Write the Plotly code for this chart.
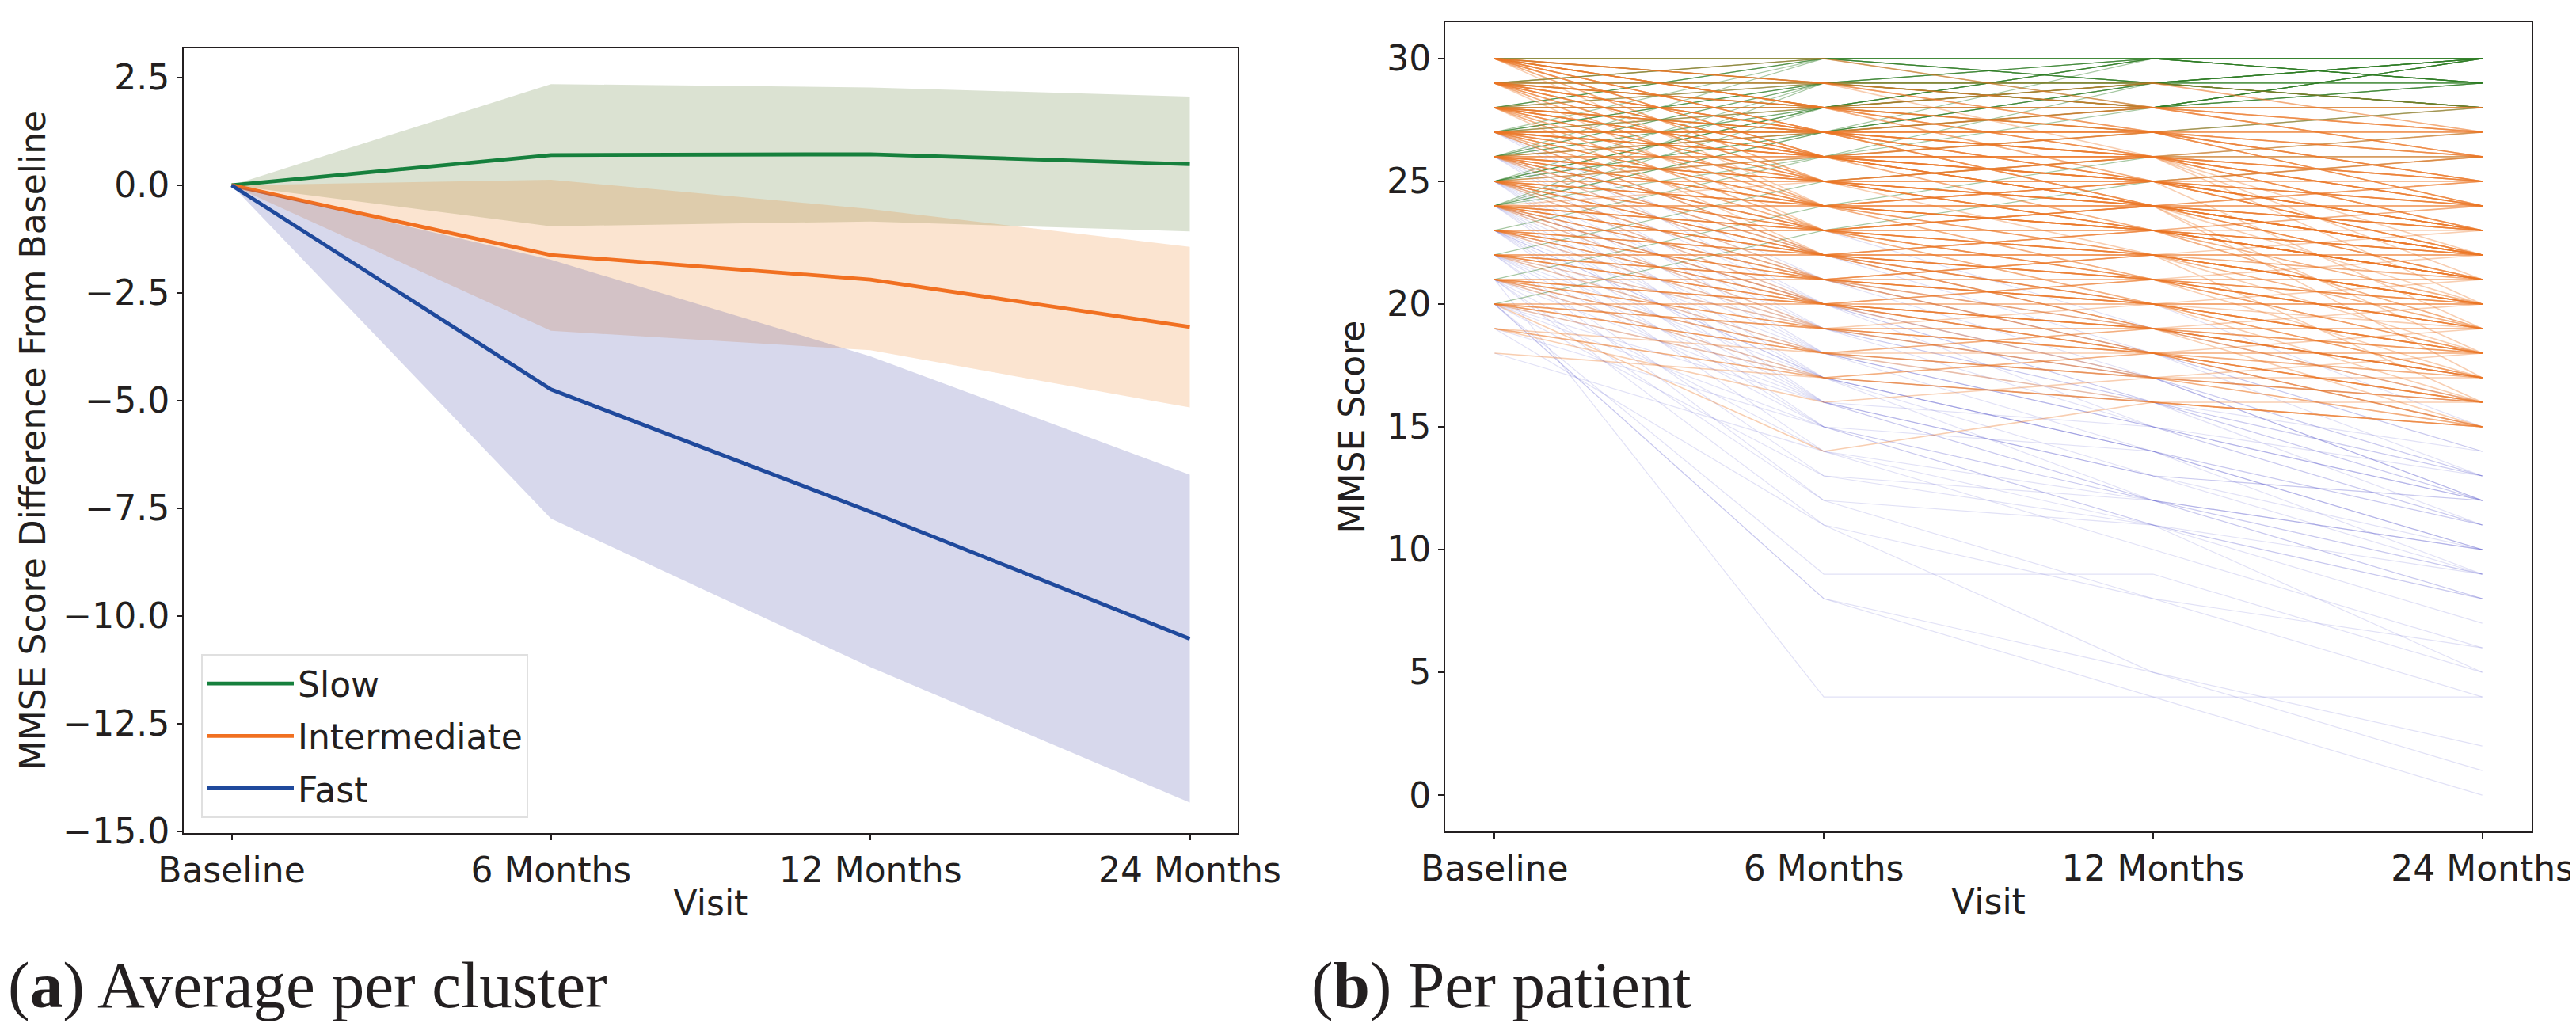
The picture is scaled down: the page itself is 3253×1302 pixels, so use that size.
import plotly.graph_objects as go

# ---------------- data ----------------
visits = ["Baseline", "6 Months", "12 Months", "24 Months"]

clusters = ["Slow", "Intermediate", "Fast"]
slow_mean = [0.0, 0.70, 0.72, 0.49]
slow_upper = [0.0, 2.35, 2.27, 2.06]
slow_lower = [0.0, -0.95, -0.84, -1.07]

inter_mean = [0.0, -1.62, -2.19, -3.29]
inter_upper = [0.0, 0.13, -0.55, -1.43]
inter_lower = [0.0, -3.38, -3.83, -5.16]

fast_mean = [0.0, -4.74, -7.58, -10.53]
fast_upper = [0.0, -1.73, -3.97, -6.72]
fast_lower = [0.0, -7.74, -11.19, -14.33]

left_yticks = [2.5, 0.0, -2.5, -5.0, -7.5, -10.0, -12.5, -15.0]
right_yticks = [0, 5, 10, 15, 20, 25, 30]

# per-patient MMSE scores (Baseline, 6 Months, 12 Months, 24 Months)
slow_patients = [
    (30, 30, 30, 30), (30, 30, 29, 30), (29, 30, 30, 29), (29, 29, 30, 30), (28, 29, 29, 30),
    (28, 30, 29, 28), (27, 29, 30, 29), (27, 28, 29, 30), (26, 28, 29, 29), (26, 29, 28, 30),
    (25, 28, 28, 29), (25, 27, 29, 30), (24, 27, 28, 29), (24, 28, 27, 28), (30, 29, 30, 30),
    (29, 28, 29, 30), (28, 28, 30, 29), (27, 30, 29, 29), (26, 27, 28, 28), (25, 29, 30, 29),
    (24, 26, 28, 30), (30, 30, 29, 29), (29, 29, 28, 30), (28, 27, 29, 30), (27, 29, 28, 30),
    (26, 30, 30, 30), (25, 26, 29, 28), (28, 30, 30, 29), (29, 30, 29, 28), (30, 29, 29, 30),
    (27, 27, 30, 30), (26, 28, 30, 29), (25, 28, 29, 28), (24, 29, 28, 29), (28, 29, 28, 29),
    (29, 28, 30, 29), (30, 28, 30, 30), (27, 28, 28, 30), (26, 29, 29, 28), (25, 27, 28, 30),
    (24, 27, 29, 28), (28, 28, 29, 28), (29, 30, 30, 30), (30, 30, 30, 29), (27, 29, 29, 28),
    (26, 27, 29, 30), (23, 26, 27, 28), (25, 28, 30, 30), (29, 29, 29, 29), (28, 30, 28, 30),
    (22, 25, 26, 27), (21, 24, 26, 26), (20, 23, 25, 26),
]

inter_patients = [
    (30, 28, 27, 25), (30, 27, 27, 24), (30, 26, 25, 24), (30, 29, 28, 26), (30, 28, 28, 27),
    (30, 27, 25, 23), (30, 26, 26, 22), (30, 29, 27, 27), (30, 28, 26, 25), (30, 27, 28, 26),
    (29, 27, 26, 25), (29, 28, 27, 24), (29, 26, 27, 25), (29, 25, 24, 23), (29, 28, 28, 26),
    (29, 27, 25, 22), (29, 26, 24, 24), (29, 29, 27, 25), (29, 27, 27, 26), (29, 25, 26, 21),
    (28, 27, 26, 24), (28, 26, 25, 23), (28, 25, 25, 22), (28, 27, 27, 25), (28, 24, 24, 23),
    (28, 26, 27, 24), (28, 28, 26, 25), (28, 25, 23, 22), (28, 27, 24, 21), (28, 26, 26, 26),
    (27, 26, 25, 23), (27, 25, 24, 22), (27, 24, 25, 23), (27, 26, 26, 24), (27, 25, 26, 20),
    (27, 23, 24, 22), (27, 27, 25, 24), (27, 24, 22, 21), (27, 26, 24, 25), (27, 25, 25, 19),
    (26, 25, 24, 22), (26, 24, 23, 21), (26, 23, 24, 20), (26, 25, 25, 23), (26, 24, 22, 22),
    (26, 22, 23, 21), (26, 26, 24, 23), (26, 23, 21, 20), (26, 25, 23, 24), (26, 24, 24, 18),
    (25, 24, 23, 21), (25, 23, 22, 20), (25, 24, 24, 22), (25, 22, 21, 19), (25, 23, 23, 22),
    (25, 24, 22, 23), (25, 21, 22, 20), (25, 25, 23, 21), (25, 22, 20, 18), (25, 23, 24, 17),
    (24, 23, 22, 20), (24, 22, 21, 19), (24, 23, 23, 21), (24, 21, 20, 18), (24, 22, 22, 22),
    (24, 24, 21, 20), (24, 20, 21, 19), (24, 23, 20, 17), (24, 21, 22, 16), (24, 22, 19, 18),
    (23, 22, 21, 19), (23, 21, 20, 18), (23, 22, 22, 20), (23, 20, 19, 17), (23, 21, 21, 21),
    (23, 23, 20, 19), (23, 19, 20, 16), (23, 22, 19, 18), (23, 20, 18, 15), (22, 21, 20, 18),
    (22, 20, 19, 17), (22, 21, 21, 19), (22, 19, 18, 16), (22, 20, 20, 20), (22, 22, 19, 18),
    (22, 18, 19, 15), (22, 21, 18, 17), (21, 20, 19, 17), (21, 19, 18, 16), (21, 20, 20, 18),
    (21, 18, 17, 15), (21, 19, 19, 19), (21, 21, 18, 17), (21, 17, 18, 16), (20, 19, 18, 16),
    (20, 18, 17, 15), (20, 19, 19, 17), (20, 17, 16, 15), (20, 18, 18, 18), (20, 20, 17, 16),
    (20, 14, 16, 15), (19, 18, 17, 16), (19, 17, 16, 15), (18, 17, 16, 15), (30, 30, 28, 27),
    (29, 30, 28, 28), (28, 29, 27, 26), (27, 28, 26, 25), (26, 27, 25, 24), (25, 26, 24, 23),
    (24, 25, 23, 22), (30, 28, 29, 27), (29, 27, 28, 26), (28, 27, 28, 27), (27, 26, 27, 26),
    (26, 25, 26, 24), (25, 24, 25, 23), (24, 23, 24, 22), (23, 22, 23, 21), (22, 21, 22, 20),
    (21, 20, 21, 19), (30, 27, 26, 23), (29, 26, 25, 22), (28, 25, 24, 21), (27, 24, 23, 20),
    (26, 23, 22, 19), (25, 22, 21, 18), (24, 21, 19, 17), (23, 20, 18, 16), (30, 29, 29, 28),
    (29, 28, 29, 27), (28, 28, 28, 28), (27, 27, 27, 27), (26, 26, 26, 25), (25, 25, 24, 24),
    (24, 24, 23, 23), (23, 23, 22, 22), (22, 22, 21, 21), (21, 21, 20, 20), (20, 20, 19, 19),
    (30, 25, 24, 22), (29, 24, 23, 21), (28, 23, 22, 20), (27, 22, 21, 18), (26, 21, 20, 17),
    (25, 20, 19, 16), (24, 19, 18, 15), (30, 28, 27, 28), (29, 27, 26, 27), (28, 26, 25, 26),
    (27, 26, 24, 25), (26, 24, 23, 22), (25, 23, 21, 22), (24, 22, 20, 21), (23, 21, 19, 20),
    (22, 20, 18, 19), (21, 19, 17, 18),
    (30, 26, 27, 25), (30, 25, 26, 24), (30, 24, 25, 23), (30, 28, 25, 24), (30, 27, 24, 22),
    (30, 29, 26, 24), (30, 26, 24, 25), (30, 28, 27, 26), (29, 28, 26, 27), (29, 26, 25, 25),
    (29, 24, 25, 22), (29, 27, 24, 23), (29, 28, 25, 26), (29, 25, 23, 22), (29, 26, 26, 23),
    (29, 23, 24, 21), (28, 26, 24, 22), (28, 27, 25, 23), (28, 24, 23, 21), (28, 25, 26, 24),
    (28, 23, 24, 22), (28, 27, 26, 23), (28, 26, 23, 20), (28, 22, 23, 21), (27, 26, 24, 21),
    (27, 25, 23, 24), (27, 27, 26, 23), (27, 24, 23, 19), (27, 23, 22, 20), (27, 26, 25, 25),
    (27, 22, 22, 18), (27, 27, 27, 24), (26, 25, 22, 21), (26, 24, 25, 22), (26, 26, 25, 26),
    (26, 22, 22, 20), (26, 23, 23, 19), (26, 25, 24, 24), (26, 27, 24, 22), (25, 24, 21, 20),
    (25, 25, 25, 24), (25, 22, 23, 21), (25, 26, 23, 22), (25, 21, 20, 17), (24, 23, 21, 18),
    (24, 24, 24, 23), (24, 22, 20, 20), (24, 20, 19, 16), (23, 23, 21, 20), (23, 21, 22, 19),
    (22, 22, 20, 18), (22, 20, 21, 17), (21, 20, 18, 18), (21, 18, 19, 17), (20, 19, 17, 17),
    (20, 18, 16, 16), (19, 17, 18, 15), (19, 16, 17, 16), (30, 29, 28, 28), (29, 29, 28, 27),
    (28, 28, 27, 27), (27, 27, 26, 26),
]

fast_patients = [
    (27, 22, 19, 16), (26, 21, 18, 13), (25, 20, 17, 12), (24, 19, 16, 12), (23, 18, 15, 11),
    (22, 17, 14, 10), (21, 16, 13, 9), (20, 15, 12, 8), (26, 19, 17, 12), (25, 17, 13, 10),
    (24, 16, 12, 9), (23, 15, 11, 8), (22, 13, 12, 10), (21, 12, 11, 9), (20, 9, 9, 5),
    (20, 8, 5, 2), (21, 4, 4, 4), (19, 11, 8, 6), (22, 18, 15, 11), (23, 17, 14, 10),
    (24, 18, 17, 13), (25, 21, 19, 17), (26, 22, 20, 15), (24, 20, 16, 14), (23, 19, 17, 12),
    (22, 16, 15, 12), (21, 17, 14, 11), (20, 16, 13, 12), (19, 15, 12, 10), (18, 14, 11, 7),
    (25, 19, 15, 13), (26, 20, 16, 12), (27, 21, 17, 13), (24, 17, 14, 11), (23, 16, 13, 12),
    (22, 15, 14, 9), (21, 14, 12, 10), (20, 13, 11, 8), (25, 18, 16, 11), (24, 21, 18, 14),
    (23, 20, 17, 16), (22, 19, 16, 13), (21, 18, 15, 12), (26, 18, 14, 10), (25, 16, 12, 8),
    (24, 15, 11, 5), (23, 14, 10, 6), (22, 12, 8, 4), (21, 11, 5, 1), (20, 17, 12, 9),
    (27, 20, 18, 14), (26, 23, 19, 17), (25, 22, 18, 15), (24, 20, 15, 12), (23, 17, 16, 13),
    (20, 8, 4, 0),
]

# ---------------- styling ----------------
TXT = "#231f20"
FONT = "DejaVu Sans"
line_colors = {"Slow": "rgb(22,128,61)", "Intermediate": "rgb(241,112,33)", "Fast": "rgb(31,73,156)"}
fill_colors = {"Slow": "rgba(75,110,30,0.2)", "Intermediate": "rgba(235,120,20,0.2)",
               "Fast": "rgba(55,60,160,0.2)"}
patient_colors = {"Slow": "rgba(45,125,35,0.42)", "Intermediate": "rgba(236,118,38,0.36)",
                  "Fast": "rgba(80,80,200,0.17)"}
patient_widths = {"Slow": 1.2, "Intermediate": 1.6, "Fast": 1.2}

fig = go.Figure()

# ---------------- left panel ----------------
series = [
    ("Slow", slow_mean, slow_upper, slow_lower),
    ("Intermediate", inter_mean, inter_upper, inter_lower),
    ("Fast", fast_mean, fast_upper, fast_lower),
]
for name, mean, upper, lower in series:
    fig.add_trace(go.Scatter(
        x=visits + visits[::-1], y=upper + lower[::-1],
        fill="toself", fillcolor=fill_colors[name], line=dict(width=0),
        mode="lines", showlegend=False, hoverinfo="skip",
        xaxis="x", yaxis="y"))
    fig.add_trace(go.Scatter(
        x=visits, y=mean, mode="lines", name=name, legendgroup=name,
        line=dict(color=line_colors[name], width=4.8),
        xaxis="x", yaxis="y"))

# ---------------- right panel ----------------
for name, pats in [("Fast", fast_patients), ("Slow", slow_patients), ("Intermediate", inter_patients)]:
    for p in pats:
        fig.add_trace(go.Scatter(
            x=visits, y=list(p), mode="lines", showlegend=False, hoverinfo="skip",
            line=dict(color=patient_colors[name], width=patient_widths[name]),
            xaxis="x2", yaxis="y2"))

W, H = 3253, 1302
axis_common = dict(
    showline=True, linecolor=TXT, linewidth=2, mirror=True,
    ticks="outside", ticklen=7, tickwidth=2, tickcolor=TXT,
    showgrid=False, zeroline=False, automargin=False,
    tickfont=dict(family=FONT, size=44, color=TXT),
)

fig.update_layout(
    template="none",
    width=W, height=H,
    margin=dict(l=0, r=0, t=0, b=0, autoexpand=False),
    paper_bgcolor="white", plot_bgcolor="white",
    font=dict(family=FONT, size=44, color=TXT),
    xaxis=dict(domain=[224 / W, 1555 / W], anchor="y", type="category",
               categoryorder="array", categoryarray=visits, range=[-0.15, 3.15],
               title=dict(text="Visit", font=dict(size=44, family=FONT, color=TXT), standoff=2),
               **axis_common),
    yaxis=dict(domain=[1 - 1044 / H, 1 - 53 / H], anchor="x", range=[-15.04, 3.18],
               tickvals=left_yticks, tickformat=".1f",
               title=dict(text="MMSE Score Difference From Baseline",
                          font=dict(size=44, family=FONT, color=TXT), standoff=8),
               **axis_common),
    xaxis2=dict(domain=[1817 / W, 3189 / W], anchor="y2", type="category",
                categoryorder="array", categoryarray=visits, range=[-0.15, 3.15],
                title=dict(text="Visit", font=dict(size=44, family=FONT, color=TXT), standoff=2),
                **axis_common),
    yaxis2=dict(domain=[1 - 1042 / H, 1 - 20 / H], anchor="x2", range=[-1.48, 31.48],
                tickvals=right_yticks,
                title=dict(text="MMSE Score", font=dict(size=44, family=FONT, color=TXT), standoff=14),
                **axis_common),
    legend=dict(x=246 / W, y=1 - 818 / H, xanchor="left", yanchor="top",
                bgcolor="white", bordercolor="#e0e0e0", borderwidth=2,
                font=dict(family=FONT, size=44, color=TXT), itemwidth=110,
                tracegroupgap=6, traceorder="grouped"),
    showlegend=True,
)

fig.add_annotation(text="(<b>a</b>) Average per cluster", xref="paper", yref="paper",
                   x=1 / W, y=1 - 1236 / H, xanchor="left", yanchor="middle", showarrow=False,
                   borderpad=0, font=dict(family="Liberation Serif", size=83, color=TXT))
fig.add_annotation(text="(<b>b</b>) Per patient", xref="paper", yref="paper",
                   x=1647 / W, y=1 - 1236 / H, xanchor="left", yanchor="middle", showarrow=False,
                   borderpad=0, font=dict(family="Liberation Serif", size=83, color=TXT))

fig.write_html("out.html")
